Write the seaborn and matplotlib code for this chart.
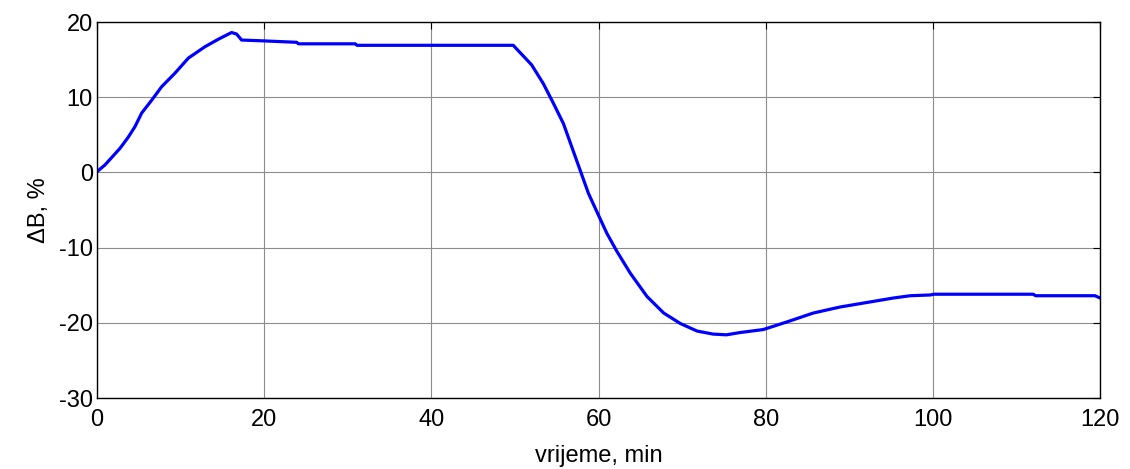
import pandas as pd
import matplotlib
matplotlib.use("Agg")
import matplotlib.pyplot as plt
import seaborn as sns

# values
time_min = [0, 0.96, 2.75, 3.75, 4.55, 5.35, 6.54, 7.74, 9.33, 10.93, 12.9, 14.5,
            16.1, 16.7, 17.3, 19.7, 23.9, 24.1, 30.9, 31.1, 49.8, 52.0, 53.4, 54.6,
            55.8, 56.8, 57.8, 58.8, 60.0, 61.0, 62.2, 63.8, 65.8, 67.8, 69.8, 71.8,
            73.7, 75.3, 76.9, 79.7, 82.5, 85.7, 88.9, 92.1, 95.3, 97.3, 99.7, 100.1,
            112.0, 112.3, 119.4, 120]
delta_b = [0.1, 1.0, 3.2, 4.7, 6.1, 7.9, 9.6, 11.4, 13.2, 15.2, 16.7, 17.7,
           18.6, 18.4, 17.6, 17.5, 17.3, 17.1, 17.1, 16.9, 16.9, 14.3, 11.8, 9.2,
           6.5, 3.4, 0.3, -2.8, -5.7, -8.1, -10.5, -13.4, -16.5, -18.7, -20.1, -21.1,
           -21.5, -21.6, -21.3, -20.9, -19.9, -18.7, -17.9, -17.3, -16.7, -16.4, -16.3, -16.2,
           -16.2, -16.4, -16.4, -16.7]
x_ticks = [0, 20, 40, 60, 80, 100, 120]
y_ticks = [-30, -20, -10, 0, 10, 20]

sns.set_style("white")
plt.rcParams["font.family"] = ["Liberation Sans", "DejaVu Sans"]
plt.rcParams["axes.unicode_minus"] = False
plt.rcParams["text.color"] = "black"
plt.rcParams["axes.labelcolor"] = "black"

df = pd.DataFrame({"t": time_min, "dB": delta_b})

fig = plt.figure(figsize=(11.3, 4.69), dpi=100)
ax = fig.add_axes([97 / 1130, 1 - 398 / 469, 1003 / 1130, 376 / 469])

sns.lineplot(data=df, x="t", y="dB", ax=ax, color="#0000ff", linewidth=2.3,
             sort=False, estimator=None)

ax.set_xlim(0, 120)
ax.set_ylim(-30, 20)
ax.set_xticks(x_ticks)
ax.set_yticks(y_ticks)
ax.grid(True, color="#8c8c8c", linewidth=0.8)
ax.set_axisbelow(True)

for s in ax.spines.values():
    s.set_color("black")
    s.set_linewidth(1.0)

ax.tick_params(direction="in", length=5, width=0.8, top=True, right=True,
               labelsize=17, colors="black", pad=3)
ax.tick_params(axis="x", pad=8)
ax.set_xlabel("vrijeme, min", fontsize=17, labelpad=10)
ax.set_ylabel("\u0394B, %", fontsize=17, labelpad=6)

fig.savefig("out.png", dpi=100)
